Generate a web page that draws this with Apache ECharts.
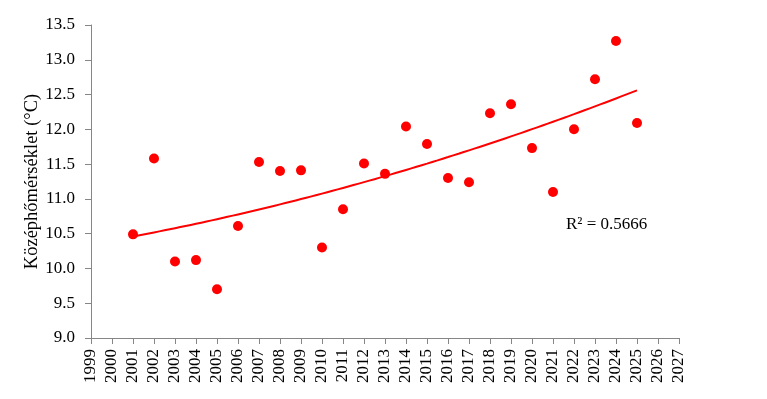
<!DOCTYPE html>
<html>
<head>
<meta charset="utf-8">
<script src="https://cdn.jsdelivr.net/npm/echarts@6/dist/echarts.min.js"></script>
<style>
  html, body { margin: 0; padding: 0; background: #fff; }
  #chart { width: 767px; height: 399px; }
</style>
</head>
<body>
<div id="chart"></div>
<script>
// évek és középhőmérséklet
var years = [2001, 2002, 2003, 2004, 2005, 2006, 2007, 2008, 2009, 2010, 2011, 2012, 2013,
  2014, 2015, 2016, 2017, 2018, 2019, 2020, 2021, 2022, 2023, 2024, 2025]
var temps = [10.49, 11.58, 10.10, 10.12, 9.70, 10.61, 11.53, 11.40, 11.41, 10.30, 10.85, 11.51, 11.36,
  12.04, 11.79, 11.30, 11.24, 12.23, 12.36, 11.73, 11.10, 12.00, 12.72, 13.27, 12.09]
var r2Label = 'R² = 0.5666'
var yName = 'Középhőmérséklet (°C)'

// másodfokú trendvonal (legkisebb négyzetek)
function polyfit2(xs, ys) {
  var x0 = 2013
  var s = [0, 0, 0, 0, 0], t = [0, 0, 0]
  for (var i = 0; i < xs.length; i++) {
    var x = xs[i] - x0
    var p = 1
    for (var k = 0; k < 5; k++) { s[k] += p; if (k < 3) t[k] += p * ys[i]; p *= x }
  }
  var A = [[s[0], s[1], s[2], t[0]], [s[1], s[2], s[3], t[1]], [s[2], s[3], s[4], t[2]]]
  for (var c = 0; c < 3; c++) {
    for (var r = c + 1; r < 3; r++) {
      var f = A[r][c] / A[c][c]
      for (var j = c; j < 4; j++) A[r][j] -= f * A[c][j]
    }
  }
  var b = [0, 0, 0]
  for (var r2 = 2; r2 >= 0; r2--) {
    var sum = A[r2][3]
    for (var j2 = r2 + 1; j2 < 3; j2++) sum -= A[r2][j2] * b[j2]
    b[r2] = sum / A[r2][r2]
  }
  return function (x) { var d = x - x0; return b[0] + b[1] * d + b[2] * d * d }
}
var fit = polyfit2(years, temps)
var trend = []
for (var x = years[0]; x <= years[years.length - 1] + 1e-9; x += 0.5) trend.push([x, fit(x)])

var chart = echarts.init(document.getElementById('chart'))
var font = '"Liberation Serif", "Times New Roman", serif'
var axisColor = '#868686'
chart.setOption({
  backgroundColor: '#fff',
  animation: false,
  grid: { left: 91, top: 25, right: 88, bottom: 61 },
  xAxis: {
    type: 'value',
    min: 1999,
    max: 2027,
    interval: 1,
    axisLine: { show: true, onZero: false, lineStyle: { color: axisColor } },
    axisTick: { show: true, length: 6, lineStyle: { color: axisColor } },
    splitLine: { show: false },
    axisLabel: {
      rotate: 90,
      margin: 11,
      color: '#000',
      fontFamily: font,
      fontSize: 17,
      formatter: function (v) { return String(v) }
    }
  },
  yAxis: {
    type: 'value',
    min: 9,
    max: 13.5,
    interval: 0.5,
    name: yName,
    nameLocation: 'middle',
    nameGap: 49,
    nameMoveOverlap: false,
    nameTextStyle: { color: '#000', fontFamily: font, fontSize: 18.5 },
    axisLine: { show: true, lineStyle: { color: axisColor } },
    axisTick: { show: true, length: 6, lineStyle: { color: axisColor } },
    splitLine: { show: false },
    axisLabel: {
      margin: 16,
      color: '#000',
      fontFamily: font,
      fontSize: 17,
      formatter: function (v) { return v.toFixed(1) }
    }
  },
  series: [
    {
      type: 'line',
      data: trend,
      showSymbol: false,
      smooth: true,
      lineStyle: { color: '#ff0000', width: 2 },
      z: 1
    },
    {
      type: 'scatter',
      data: years.map(function (y, i) { return [y, temps[i]] }),
      symbolSize: 10,
      itemStyle: { color: '#ff0000', opacity: 1 },
      z: 2
    }
  ],
  graphic: [{
    type: 'text',
    left: 566,
    top: 216,
    style: { text: r2Label, fill: '#000', font: '17px ' + font }
  }]
})
</script>
</body>
</html>
